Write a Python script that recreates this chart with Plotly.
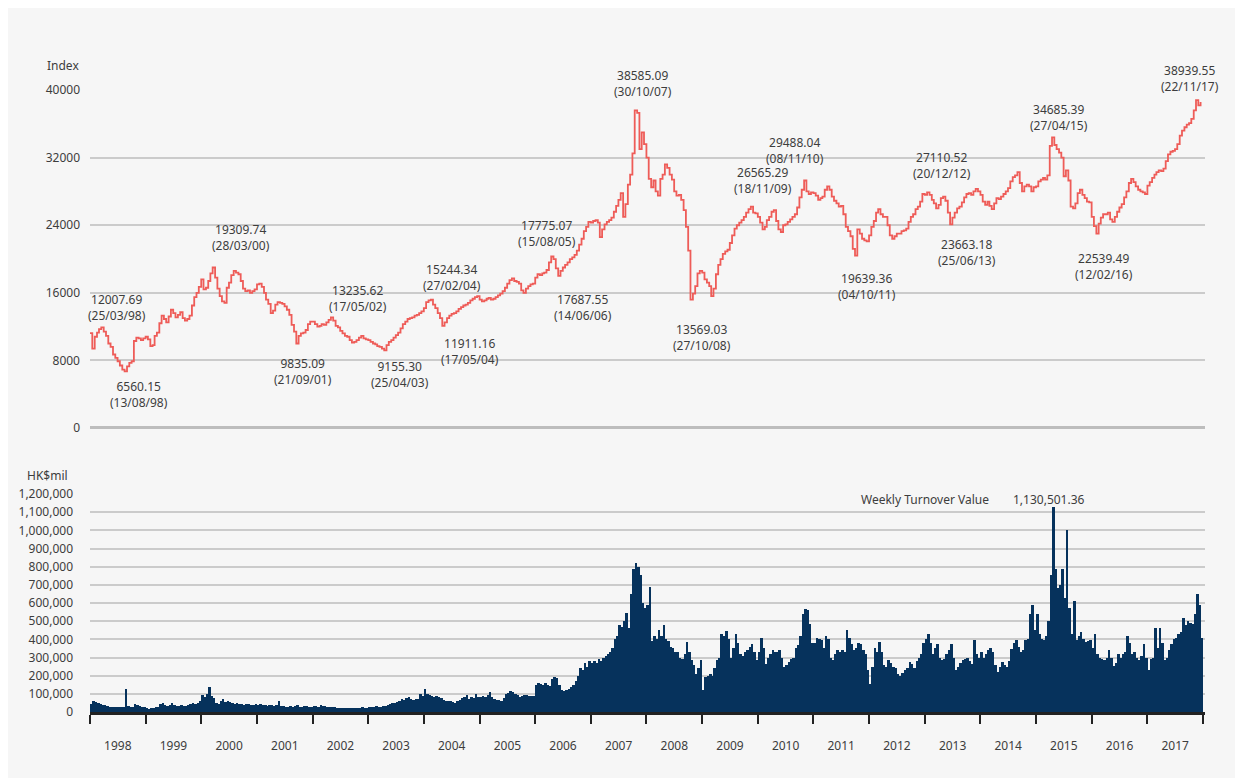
import datetime as dt
import plotly.graph_objects as go

# ---------------- data (half-monthly) ----------------
years = list(range(1998, 2018))
half_months = ["01-01", "01-16", "02-01", "02-16", "03-01", "03-16", "04-01", "04-16",
               "05-01", "05-16", "06-01", "06-16", "07-01", "07-16", "08-01", "08-16",
               "09-01", "09-16", "10-01", "10-16", "11-01", "11-16", "12-01", "12-16"]

index_1998 = [11240, 9400, 10800, 11300, 11700, 11900, 11400, 10900, 10000, 9600, 8700, 8300,
              7900, 7400, 6900, 6700, 7300, 7700, 7900, 10300, 10700, 10600, 10400, 10600]
index_1999 = [10800, 10500, 9700, 9800, 10900, 11300, 12400, 13300, 12900, 12500, 13200, 14000,
              13600, 13100, 13400, 13700, 13000, 12700, 12900, 13300, 14500, 15500, 16000, 16700]
index_2000 = [17600, 16400, 16600, 17400, 18300, 19000, 17800, 16500, 15600, 15000, 14800, 16600,
              17200, 18100, 18600, 18400, 18200, 17400, 16500, 16200, 16300, 16000, 16200, 16400]
index_2001 = [17000, 17100, 16700, 16000, 15200, 14700, 13600, 13900, 14600, 14900, 14800, 14700,
              14400, 14000, 13400, 12200, 11400, 10000, 10900, 11200, 11300, 11600, 12300, 12600]
index_2002 = [12600, 12300, 12000, 12100, 12300, 12200, 12500, 12800, 13100, 12700, 12100, 11900,
              11500, 11200, 10900, 10800, 10400, 10100, 10200, 10400, 10700, 10900, 10600, 10500]
index_2003 = [10400, 10200, 10000, 9900, 9700, 9600, 9400, 9200, 9800, 10200, 10400, 10700,
              11000, 11300, 11800, 12300, 12600, 12900, 13000, 13100, 13300, 13400, 13600, 13800]
index_2004 = [14200, 14900, 15100, 15200, 14600, 14200, 13600, 13000, 12100, 12500, 13000, 13300,
              13500, 13600, 13800, 14100, 14300, 14500, 14600, 14800, 15100, 15300, 15500, 15600]
index_2005 = [15200, 15000, 15100, 15300, 15400, 15200, 15300, 15500, 15700, 15900, 16200, 16600,
              17100, 17500, 17700, 17400, 17300, 17100, 16300, 16000, 16500, 16800, 17000, 17100]
index_2006 = [17800, 18200, 18100, 18300, 18400, 18700, 19600, 20300, 20000, 18900, 18000, 18600,
              19000, 19300, 19600, 20000, 20200, 20500, 21000, 21700, 22400, 23300, 23800, 24400]
index_2007 = [24300, 24500, 24600, 24300, 22600, 23500, 24100, 24400, 24600, 24900, 25600, 26300,
              27000, 27800, 25000, 26500, 28800, 30000, 32500, 37600, 37300, 33000, 35000, 33600]
index_2008 = [32000, 29500, 28500, 29300, 28000, 27500, 29500, 30000, 31200, 30800, 30000, 29400,
              28000, 27500, 27600, 27000, 25800, 23800, 21000, 15200, 15900, 16800, 18300, 18600]
index_2009 = [18400, 17600, 17200, 16800, 15600, 16500, 18200, 19300, 20000, 20600, 20900, 21100,
              21900, 22800, 23600, 24000, 24300, 24600, 25000, 25500, 25900, 26200, 25500, 25400]
index_2010 = [25000, 24300, 23500, 23800, 24600, 25000, 25600, 25800, 24500, 23500, 23200, 24000,
              24100, 24400, 24700, 25000, 25300, 26100, 27300, 28200, 29300, 28000, 27700, 27900]
index_2011 = [27800, 27500, 27000, 27200, 27400, 28200, 28600, 28200, 27400, 26900, 26600, 26200,
              26300, 25300, 23800, 23300, 22700, 21200, 20400, 23500, 23000, 22400, 22200, 22100]
index_2012 = [22800, 23800, 24500, 25500, 25900, 25300, 25000, 25000, 24000, 22800, 22400, 22700,
              23000, 23000, 23300, 23400, 23600, 24400, 25000, 25300, 25900, 26200, 26800, 27700]
index_2013 = [27600, 27900, 27600, 27000, 26600, 26000, 26400, 27200, 27400, 26900, 25500, 24100,
              24900, 25500, 26000, 26200, 26700, 27300, 27700, 27800, 27600, 28000, 28300, 28000]
index_2014 = [27600, 26800, 26400, 26800, 26300, 25900, 26600, 27200, 27100, 27400, 27700, 28000,
              28400, 29200, 29700, 29900, 30300, 29000, 28000, 28600, 28800, 28600, 28000, 28500]
index_2015 = [28600, 29200, 29400, 29600, 29400, 29900, 33400, 34400, 33500, 33000, 32600, 32000,
              29800, 30500, 29300, 26200, 26000, 26600, 27800, 28200, 27600, 27200, 26800, 26700]
index_2016 = [25000, 23900, 23000, 24200, 24900, 25300, 25300, 25500, 24700, 24400, 25000, 25600,
              26100, 26500, 27300, 28000, 29000, 29500, 29100, 28600, 28200, 28000, 27900, 27700]
index_2017 = [28700, 29100, 29600, 30000, 30300, 30500, 30400, 30700, 31600, 32400, 32700, 32800,
              33000, 33600, 34600, 35200, 35600, 35900, 36100, 36600, 37600, 38800, 38200, 38600]

turnover_1998 = [45000, 58000, 55000, 50000, 42000, 38000, 40000, 35000, 30000, 28000, 27000, 26000,
                 28000, 25000, 30000, 125000, 35000, 25000, 30000, 45000, 40000, 35000, 30000, 28000]
turnover_1999 = [20000, 18000, 22000, 20000, 25000, 30000, 45000, 52000, 38000, 35000, 40000, 50000,
                 36000, 35000, 33000, 38000, 35000, 32000, 40000, 42000, 48000, 45000, 50000, 60000]
turnover_2000 = [95000, 80000, 100000, 140000, 90000, 75000, 50000, 45000, 60000, 70000, 55000, 60000,
                 55000, 50000, 45000, 48000, 42000, 45000, 40000, 42000, 45000, 40000, 38000, 42000]
turnover_2001 = [40000, 42000, 38000, 40000, 35000, 40000, 38000, 35000, 40000, 58000, 35000, 32000,
                 30000, 28000, 32000, 30000, 35000, 40000, 30000, 28000, 32000, 35000, 30000, 28000]
turnover_2002 = [32000, 35000, 30000, 38000, 33000, 35000, 30000, 28000, 30000, 25000, 24000, 22000,
                 22000, 24000, 22000, 20000, 23000, 22000, 24000, 22000, 23000, 25000, 24000, 22000]
turnover_2003 = [25000, 28000, 30000, 32000, 28000, 30000, 32000, 35000, 40000, 45000, 50000, 48000,
                 55000, 60000, 70000, 65000, 75000, 80000, 70000, 65000, 72000, 70000, 100000, 90000]
turnover_2004 = [125000, 100000, 95000, 88000, 85000, 90000, 80000, 75000, 65000, 60000, 62000, 58000,
                 55000, 50000, 60000, 65000, 75000, 80000, 95000, 70000, 80000, 75000, 100000, 85000]
turnover_2005 = [80000, 90000, 85000, 95000, 110000, 80000, 70000, 65000, 68000, 62000, 75000, 100000,
                 105000, 115000, 110000, 100000, 95000, 85000, 90000, 92000, 95000, 90000, 88000, 90000]
turnover_2006 = [150000, 160000, 155000, 150000, 160000, 150000, 145000, 180000, 195000, 185000, 150000, 120000,
                 115000, 120000, 125000, 140000, 150000, 170000, 200000, 240000, 230000, 270000, 250000, 280000]
turnover_2007 = [270000, 280000, 270000, 290000, 280000, 300000, 310000, 320000, 330000, 350000, 400000, 420000,
                 480000, 470000, 500000, 545000, 465000, 650000, 790000, 820000, 800000, 755000, 600000, 575000]
turnover_2008 = [590000, 690000, 390000, 420000, 400000, 450000, 420000, 480000, 400000, 390000, 360000, 355000,
                 330000, 330000, 300000, 290000, 320000, 385000, 330000, 285000, 260000, 210000, 240000, 285000]
turnover_2009 = [120000, 195000, 200000, 210000, 200000, 240000, 285000, 300000, 430000, 420000, 445000, 400000,
                 300000, 350000, 430000, 380000, 320000, 310000, 330000, 340000, 360000, 375000, 330000, 285000]
turnover_2010 = [330000, 410000, 350000, 265000, 300000, 320000, 340000, 330000, 330000, 340000, 300000, 250000,
                 260000, 275000, 290000, 300000, 355000, 370000, 420000, 540000, 565000, 560000, 485000, 380000]
turnover_2011 = [380000, 410000, 400000, 395000, 350000, 420000, 400000, 300000, 285000, 320000, 340000, 330000,
                 340000, 330000, 450000, 410000, 375000, 340000, 355000, 380000, 375000, 340000, 320000, 230000]
turnover_2012 = [155000, 250000, 355000, 330000, 385000, 330000, 260000, 250000, 285000, 270000, 250000, 240000,
                 210000, 200000, 215000, 230000, 240000, 275000, 265000, 240000, 280000, 300000, 320000, 380000]
turnover_2013 = [400000, 430000, 380000, 320000, 350000, 375000, 300000, 285000, 290000, 320000, 340000, 375000,
                 300000, 230000, 250000, 270000, 285000, 290000, 300000, 280000, 265000, 395000, 320000, 300000]
turnover_2014 = [330000, 300000, 320000, 340000, 355000, 330000, 260000, 220000, 250000, 275000, 260000, 250000,
                 280000, 345000, 380000, 395000, 360000, 330000, 340000, 395000, 400000, 540000, 590000, 450000]
turnover_2015 = [540000, 430000, 400000, 395000, 420000, 500000, 755000, 1130501.36, 790000, 685000, 700000, 790000,
                 630000, 1000000, 575000, 430000, 610000, 395000, 420000, 440000, 400000, 385000, 390000, 395000]
turnover_2016 = [350000, 430000, 320000, 300000, 290000, 285000, 300000, 340000, 300000, 255000, 270000, 320000,
                 300000, 320000, 330000, 420000, 380000, 320000, 330000, 300000, 285000, 310000, 375000, 300000]
turnover_2017 = [230000, 290000, 300000, 465000, 350000, 465000, 380000, 285000, 300000, 340000, 375000, 400000,
                 410000, 430000, 440000, 520000, 480000, 500000, 490000, 485000, 540000, 650000, 590000, 410000]

index_by_year = [index_1998, index_1999, index_2000, index_2001, index_2002, index_2003, index_2004,
                 index_2005, index_2006, index_2007, index_2008, index_2009, index_2010, index_2011,
                 index_2012, index_2013, index_2014, index_2015, index_2016, index_2017]
turnover_by_year = [turnover_1998, turnover_1999, turnover_2000, turnover_2001, turnover_2002,
                    turnover_2003, turnover_2004, turnover_2005, turnover_2006, turnover_2007,
                    turnover_2008, turnover_2009, turnover_2010, turnover_2011, turnover_2012,
                    turnover_2013, turnover_2014, turnover_2015, turnover_2016, turnover_2017]

# labelled highs / lows of the index
extreme_dates = ["1998-03-25", "1998-08-13", "2000-03-28", "2001-09-21", "2002-05-17", "2003-04-25",
                 "2004-02-27", "2004-05-17", "2005-08-15", "2006-06-14", "2007-10-30", "2008-10-27",
                 "2009-11-18", "2010-11-08", "2011-10-04", "2012-12-20", "2013-06-25", "2015-04-27",
                 "2016-02-12", "2017-11-22"]
extreme_values = [12007.69, 6560.15, 19309.74, 9835.09, 13235.62, 9155.30, 15244.34, 11911.16,
                  17775.07, 17687.55, 38585.09, 13569.03, 26565.29, 29488.04, 19639.36, 27110.52,
                  23663.18, 34685.39, 22539.49, 38939.55]

peak_turnover_date = "2015-04-16"
peak_turnover_value = 1130501.36

# ---------------- styling / placement ----------------
label_dx = [14, 15, 27, 6, 25, 14, 19, 25, 33, 23, 6, 10, 12, -10, 12, 19, 16, 5, 6, -7]
label_dy = [19.5, -22, 27, -27, 18, -24, 21.5, -24, 44, -29, 19, -24, 23.5, 28, -24, 33, -24.5, 17, -28.5, 21]

RED = "#ee5c58"
NAVY = "#06325c"
GRID = "#cbcbcb"
TEXT = "#3d3d3d"
BG = "#f6f6f6"
FONT = "Noto Sans, Open Sans, DejaVu Sans, sans-serif"
DAY_MS = 86400000

dates = [f"{y}-{hm}" for y in years for hm in half_months]
index_values = [v for yr in index_by_year for v in yr]
turnover_values = [v for yr in turnover_by_year for v in yr]

fig = go.Figure()

fig.add_trace(go.Scatter(
    x=dates, y=index_values, mode="lines", line=dict(color=RED, width=1.8, shape="hv"),
    xaxis="x", yaxis="y", hoverinfo="x+y", showlegend=False,
))

fig.add_trace(go.Bar(
    x=dates, y=turnover_values, marker=dict(color=NAVY, line=dict(width=0)),
    width=16.6 * DAY_MS, offset=0,
    xaxis="x2", yaxis="y2", showlegend=False,
))

annotations = []
for d, v, dx, dy in zip(extreme_dates, extreme_values, label_dx, label_dy):
    dd = dt.datetime.strptime(d, "%Y-%m-%d")
    annotations.append(dict(
        x=d, y=v, xref="x", yref="y", showarrow=False,
        text=f"{v:.2f}<br>({dd.strftime('%d/%m/%y')})",
        xshift=dx, yshift=dy, align="center", xanchor="center", yanchor="middle",
        font=dict(family=FONT, size=12, color=TEXT),
    ))

annotations.append(dict(
    x=peak_turnover_date, y=peak_turnover_value, xref="x2", yref="y2", showarrow=False,
    text=f"{peak_turnover_value:,.2f}", xshift=-3, yshift=7, xanchor="center", yanchor="middle",
    font=dict(family=FONT, size=12, color=TEXT),
))
annotations.append(dict(
    x=peak_turnover_date, y=peak_turnover_value, xref="x2", yref="y2", showarrow=False,
    text="Weekly Turnover Value", xshift=-127, yshift=7, xanchor="center", yanchor="middle",
    font=dict(family=FONT, size=12, color=TEXT),
))
annotations.append(dict(
    x=-0.0242, y=1.0386, xref="paper", yref="paper", showarrow=False, text="Index",
    xanchor="center", yanchor="middle",
    font=dict(family=FONT, size=12, color=TEXT),
))
annotations.append(dict(
    x=-0.0377, y=0.381, xref="paper", yref="paper", showarrow=False, text="HK$mil",
    xanchor="center", yanchor="middle",
    font=dict(family=FONT, size=12, color=TEXT),
))

x_range = ["1998-01-01", "2018-01-14"]

fig.update_layout(
    width=1230, height=770,
    margin=dict(l=82, r=33, t=82, b=66),
    paper_bgcolor=BG, plot_bgcolor=BG,
    font=dict(family=FONT, size=12, color=TEXT),
    bargap=0,
    annotations=annotations,
    xaxis=dict(domain=[0, 1], anchor="y", type="date", range=x_range, showticklabels=False,
               showgrid=False, zeroline=False, showline=False, ticks=""),
    yaxis=dict(domain=[0.4566, 1], range=[0, 40010], tickvals=[0, 8000, 16000, 24000, 32000, 40000],
               ticktext=["0", "8000", "16000", "24000", "32000", "40000"],
               showgrid=True, gridcolor=GRID, gridwidth=1.5,
               zeroline=True, zerolinecolor="#bdbdbd", zerolinewidth=3,
               ticks="", ticklabelstandoff=9, tickfont=dict(size=12, color=TEXT)),
    xaxis2=dict(domain=[0, 1], anchor="y2", type="date", range=x_range,
                dtick="M12", tick0="1998-01-01", tickformat="%Y", ticklabelmode="period",
                ticks="outside", ticklen=9, tickwidth=2, tickcolor="#222222",
                showline=True, linecolor="#222222", linewidth=3,
                showgrid=False, zeroline=False, ticklabelstandoff=12,
                tickfont=dict(size=12, color=TEXT)),
    yaxis2=dict(domain=[0, 0.3505], range=[0, 1200500], dtick=100000, tickformat=",",
                showgrid=True, gridcolor=GRID, gridwidth=1.5, zeroline=False,
                ticks="", ticklabelstandoff=16, tickfont=dict(size=12, color=TEXT)),
)

fig.write_html("out.html")
